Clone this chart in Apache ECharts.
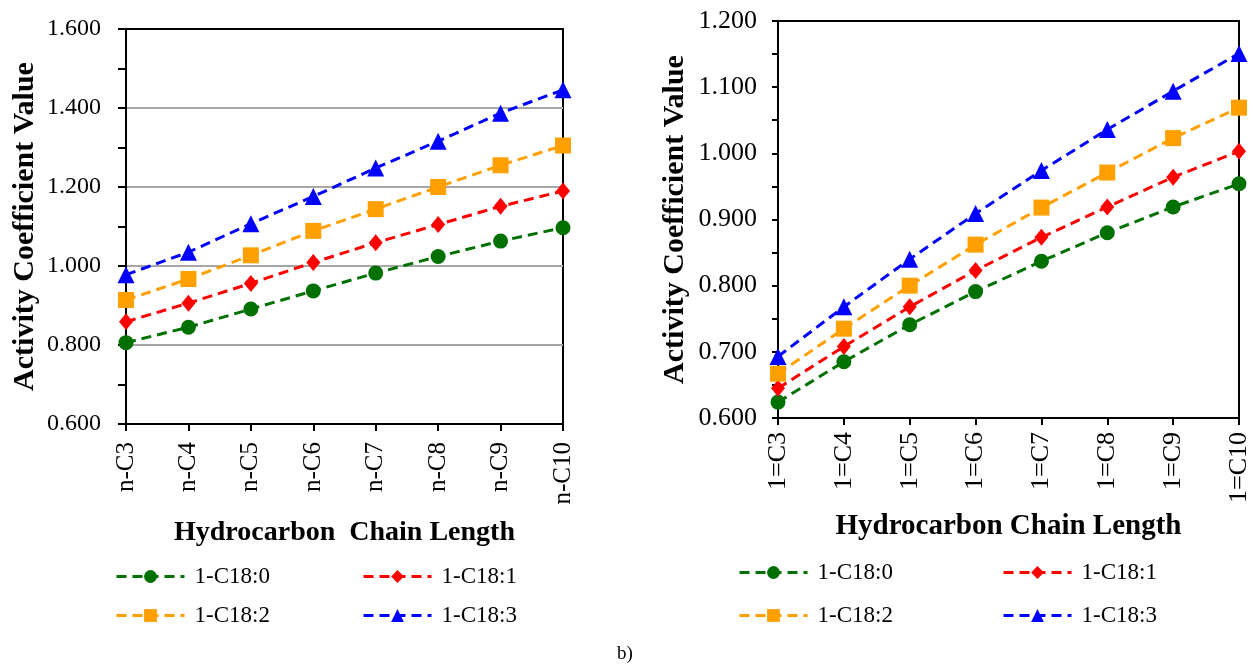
<!DOCTYPE html>
<html><head><meta charset="utf-8">
<script src="https://cdn.jsdelivr.net/npm/echarts@6/dist/echarts.min.js"></script>
<style>html,body{margin:0;padding:0;background:#fff}#c{width:1253px;height:667px}</style>
</head><body><div id="c"></div>
<script>
const seriesNames = ['1-C18:0', '1-C18:1', '1-C18:2', '1-C18:3'];
const leftCategories = ['n-C3','n-C4','n-C5','n-C6','n-C7','n-C8','n-C9','n-C10'];
const rightCategories = ['1=C3','1=C4','1=C5','1=C6','1=C7','1=C8','1=C9','1=C10'];
const leftC180 = [0.806, 0.845, 0.891, 0.937, 0.982, 1.024, 1.063, 1.097];
const leftC181 = [0.859, 0.906, 0.956, 1.009, 1.059, 1.105, 1.151, 1.190];
const leftC182 = [0.914, 0.967, 1.027, 1.089, 1.144, 1.200, 1.255, 1.305];
const leftC183 = [0.978, 1.035, 1.107, 1.176, 1.248, 1.316, 1.387, 1.446];
const rightC180 = [0.624, 0.685, 0.741, 0.791, 0.837, 0.880, 0.919, 0.954];
const rightC181 = [0.645, 0.708, 0.768, 0.823, 0.873, 0.919, 0.964, 1.003];
const rightC182 = [0.667, 0.735, 0.800, 0.862, 0.918, 0.971, 1.023, 1.069];
const rightC183 = [0.693, 0.768, 0.840, 0.909, 0.974, 1.036, 1.094, 1.151];
const xAxisTitles = ['Hydrocarbon  Chain Length', 'Hydrocarbon Chain Length'];
const yAxisTitle = 'Activity Coefficient Value';

const colors = ['#007000', '#ff0000', '#ffa000', '#0000ff'];
const symbols = ['circle', 'diamond', 'square', 'triangle'];
const symbolSizes = [15, [14, 17], 16, 17];
const FONT = '"Liberation Serif", "Times New Roman", serif';

const chart = echarts.init(document.getElementById('c'), null, {renderer: 'canvas'});

function mkSeries(data, i, idx) {
  return {
    type: 'line', name: seriesNames[i], xAxisIndex: idx, yAxisIndex: idx,
    data: data, symbol: symbols[i], symbolSize: symbolSizes[i],
    color: colors[i],
    lineStyle: {color: colors[i], width: 3, type: [10, 6]},
    itemStyle: {color: colors[i]},
    animation: false, z: 3 + i
  };
}

function mkX(idx, cats, nameGap, fs, nfs, margin) {
  return {
    type: 'category', gridIndex: idx, data: cats, boundaryGap: false,
    name: xAxisTitles[idx], nameLocation: 'middle', nameGap: nameGap,
    nameTextStyle: {fontFamily: FONT, fontWeight: 'bold', fontSize: nfs, color: '#000'},
    axisLine: {lineStyle: {color: '#000', width: 2}},
    axisTick: {show: true, alignWithLabel: true, length: 7, lineStyle: {color: '#000', width: 2}},
    axisLabel: {rotate: 90, fontFamily: FONT, fontSize: fs, color: '#000', margin: margin, interval: 0},
    splitLine: {show: false}
  };
}

function mkY(idx, min, max, interval, splitColors, nameGap, fs, margin, tickLen) {
  return {
    type: 'value', gridIndex: idx, min: min, max: max, interval: interval,
    name: yAxisTitle, nameLocation: 'middle', nameGap: nameGap,
    nameTextStyle: {fontFamily: FONT, fontWeight: 'bold', fontSize: 30, color: '#000'},
    axisLine: {show: true, lineStyle: {color: '#000', width: 2}},
    axisTick: {show: true, length: tickLen, lineStyle: {color: '#000', width: 2}},
    minorTick: {show: true, splitNumber: 2, length: tickLen, lineStyle: {color: '#000', width: 2}},
    axisLabel: {fontFamily: FONT, fontSize: fs, color: '#000', margin: margin,
      formatter: v => v.toFixed(3)},
    splitLine: {show: !!splitColors, lineStyle: {color: splitColors || '#000', width: 2}}
  };
}

function mkLegend(name, left, top) {
  return {
    data: [name], left: left, top: top, orient: 'horizontal', padding: 0,
    itemWidth: 68, itemHeight: 16, itemGap: 0, selectedMode: false,
    lineStyle: {width: 3},
    textStyle: {fontFamily: FONT, fontSize: 23, color: '#000', padding: [0, 0, 0, 5]}
  };
}

const gridGray = '#a6a6a6';
const option = {
  backgroundColor: '#fff',
  animation: false,
  textStyle: {fontFamily: FONT},
  grid: [
    {left: 126, top: 29, width: 437, height: 395, show: true, borderColor: '#000', borderWidth: 2, backgroundColor: 'transparent'},
    {left: 778, top: 21, width: 461, height: 397, show: true, borderColor: '#000', borderWidth: 2, backgroundColor: 'transparent'}
  ],
  xAxis: [mkX(0, leftCategories, 95, 25, 28, 18), mkX(1, rightCategories, 94, 26, 29, 14)],
  yAxis: [
    mkY(0, 0.6, 1.6, 0.2, ['#000', gridGray, gridGray, gridGray, gridGray, '#000'], 86, 24, 25, 8),
    mkY(1, 0.6, 1.2, 0.1, null, 88, 26, 21, 6)
  ],
  legend: [
    mkLegend(seriesNames[0], 115, 565),
    mkLegend(seriesNames[1], 362, 565),
    mkLegend(seriesNames[2], 115, 604),
    mkLegend(seriesNames[3], 362, 604),
    mkLegend(seriesNames[0], 738, 561),
    mkLegend(seriesNames[1], 1002, 561),
    mkLegend(seriesNames[2], 738, 604),
    mkLegend(seriesNames[3], 1002, 604)
  ],
  graphic: [{
    type: 'text', left: 617, top: 645,
    style: {text: 'b)', fontFamily: FONT, fontSize: 19, fill: '#000'}
  }],
  series: [
    mkSeries(leftC180, 0, 0), mkSeries(leftC181, 1, 0), mkSeries(leftC182, 2, 0), mkSeries(leftC183, 3, 0),
    mkSeries(rightC180, 0, 1), mkSeries(rightC181, 1, 1), mkSeries(rightC182, 2, 1), mkSeries(rightC183, 3, 1)
  ]
};
chart.setOption(option);
</script>
</body></html>
